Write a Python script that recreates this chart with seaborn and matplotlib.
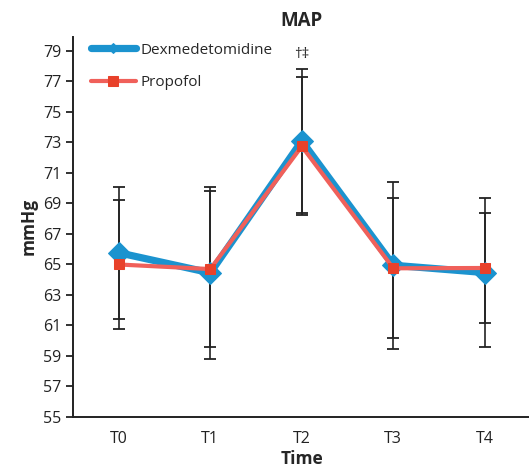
import numpy as np
import pandas as pd
import seaborn as sns
import matplotlib
import matplotlib.pyplot as plt

matplotlib.use('agg')

# data
times = ['T0', 'T1', 'T2', 'T3', 'T4']
dex_mean = [65.77, 64.45, 73.1, 64.95, 64.47]
dex_sd = [4.33, 5.62, 4.72, 5.48, 4.87]
prop_mean = [65.0, 64.70, 72.75, 64.75, 64.77]
prop_sd = [4.25, 5.12, 4.53, 4.58, 3.63]

dex_color = '#1b93cf'
prop_color = '#f0605a'
prop_marker_color = '#e8412a'

df_dex = pd.DataFrame({'Time': times, 'MAP': dex_mean})
df_prop = pd.DataFrame({'Time': times, 'MAP': prop_mean})

sns.set_style('ticks')
plt.rcParams['font.family'] = ['Open Sans', 'DejaVu Sans']

fig = plt.figure(figsize=(5.29, 4.68), dpi=100)
ax = fig.add_axes([0.138, 0.109, 0.865, 0.813])

# error bars behind the lines
x = np.arange(len(times))
ax.errorbar(x, dex_mean, yerr=dex_sd, fmt='none', ecolor='#222222',
            elinewidth=1.2, capsize=4, capthick=1.3, zorder=1)
ax.errorbar(x, prop_mean, yerr=prop_sd, fmt='none', ecolor='#222222',
            elinewidth=1.2, capsize=4, capthick=1.3, zorder=1)

sns.lineplot(data=df_dex, x='Time', y='MAP', ax=ax, color=dex_color,
             linewidth=5.2, marker='D', markersize=11, markeredgecolor=dex_color,
             label='Dexmedetomidine', zorder=3)
sns.lineplot(data=df_prop, x='Time', y='MAP', ax=ax, color=prop_color,
             linewidth=3, marker='s', markersize=7, markerfacecolor=prop_marker_color,
             markeredgecolor=prop_marker_color, label='Propofol', zorder=4)

ax.set_ylim(55, 79.95)
ax.set_xlim(-0.5, 4.5)
ax.set_yticks(np.arange(55, 80, 2))
ax.tick_params(axis='y', labelsize=11.5, length=5, width=1.3, colors='#222222')
ax.tick_params(axis='x', labelsize=11.5, length=0, pad=10, colors='#222222')
for s in ['left', 'bottom']:
    ax.spines[s].set_linewidth(1.4)
    ax.spines[s].set_color('#222222')
sns.despine(ax=ax)

ax.set_xlabel('Time', fontsize=12.5, fontweight='bold', labelpad=2)
ax.set_ylabel('mmHg', fontsize=12.5, fontweight='bold', labelpad=4)
ax.set_title('MAP', fontsize=13.5, fontweight='bold', pad=7.5)

ax.text(2, 78.75, '†‡', ha='center', va='center', fontsize=11)

leg = ax.legend(loc='upper left', bbox_to_anchor=(0.01, 1.02), frameon=False,
                fontsize=11, handlelength=2.9, labelspacing=1.15, handletextpad=0.3)
# smaller diamond in the legend handle, like the reference
leg.legend_handles[0].set_markersize(5)

fig.savefig('out.png', dpi=100)
